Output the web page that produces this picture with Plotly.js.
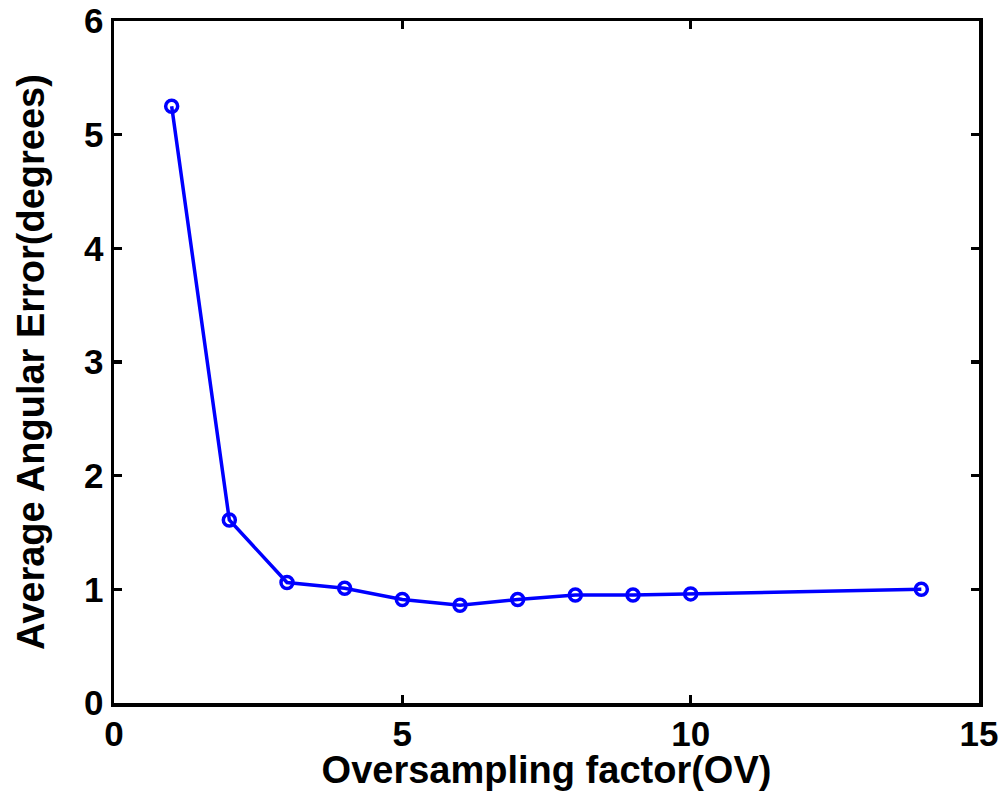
<!DOCTYPE html>
<html>
<head>
<meta charset="utf-8">
<script src="https://cdn.plot.ly/plotly-3.0.1.min.js"></script>
<style>html,body{margin:0;padding:0;background:#fff;}#chart{width:1003px;height:791px;}</style>
</head>
<body>
<div id="chart"></div>
<script>
const oversampling = [1, 2, 3, 4, 5, 6, 7, 8, 9, 10, 14];
const angularError = [5.25, 1.61, 1.06, 1.01, 0.91, 0.86, 0.91, 0.95, 0.95, 0.96, 1.0];
const xTicks = [0, 5, 10, 15];
const yTicks = [0, 1, 2, 3, 4, 5, 6];

const fam = 'Liberation Sans, Arial, sans-serif';

const trace = {
  x: oversampling, y: angularError, type: 'scatter', mode: 'lines+markers',
  line: {color: '#0000ff', width: 3.5},
  marker: {symbol: 'circle-open', size: 12, color: '#0000ff', line: {width: 3.5, color: '#0000ff'}},
  cliponaxis: false
};

const axisCommon = {
  showgrid: false, zeroline: false, showline: true, mirror: 'ticks',
  linecolor: '#000', linewidth: 3.5, ticks: 'inside', ticklen: 8, tickwidth: 3.5, tickcolor: '#000',
  tickfont: {family: fam, size: 35, color: '#000', weight: 'bold'}
};

const layout = {
  width: 1003, height: 791,
  paper_bgcolor: '#fff', plot_bgcolor: '#fff',
  margin: {l: 114, r: 24, t: 21, b: 88},
  showlegend: false,
  font: {family: fam, color: '#000'},
  xaxis: Object.assign({}, axisCommon, {
    range: [0, 15], tickvals: xTicks, ticktext: xTicks.map(String), ticklabelstandoff: -3,
    title: {text: 'Oversampling factor(OV)', font: {family: fam, size: 38, color: '#000', weight: 'bold'}, standoff: 5}
  }),
  yaxis: Object.assign({}, axisCommon, {
    range: [0, 6], tickvals: yTicks, ticktext: yTicks.map(String), ticklabelstandoff: 0,
    title: {text: 'Average Angular Error(degrees)', font: {family: fam, size: 38, color: '#000', weight: 'bold'}, standoff: 28}
  })
};

Plotly.newPlot('chart', [trace], layout, {displayModeBar: false, staticPlot: true});
</script>
</body>
</html>
